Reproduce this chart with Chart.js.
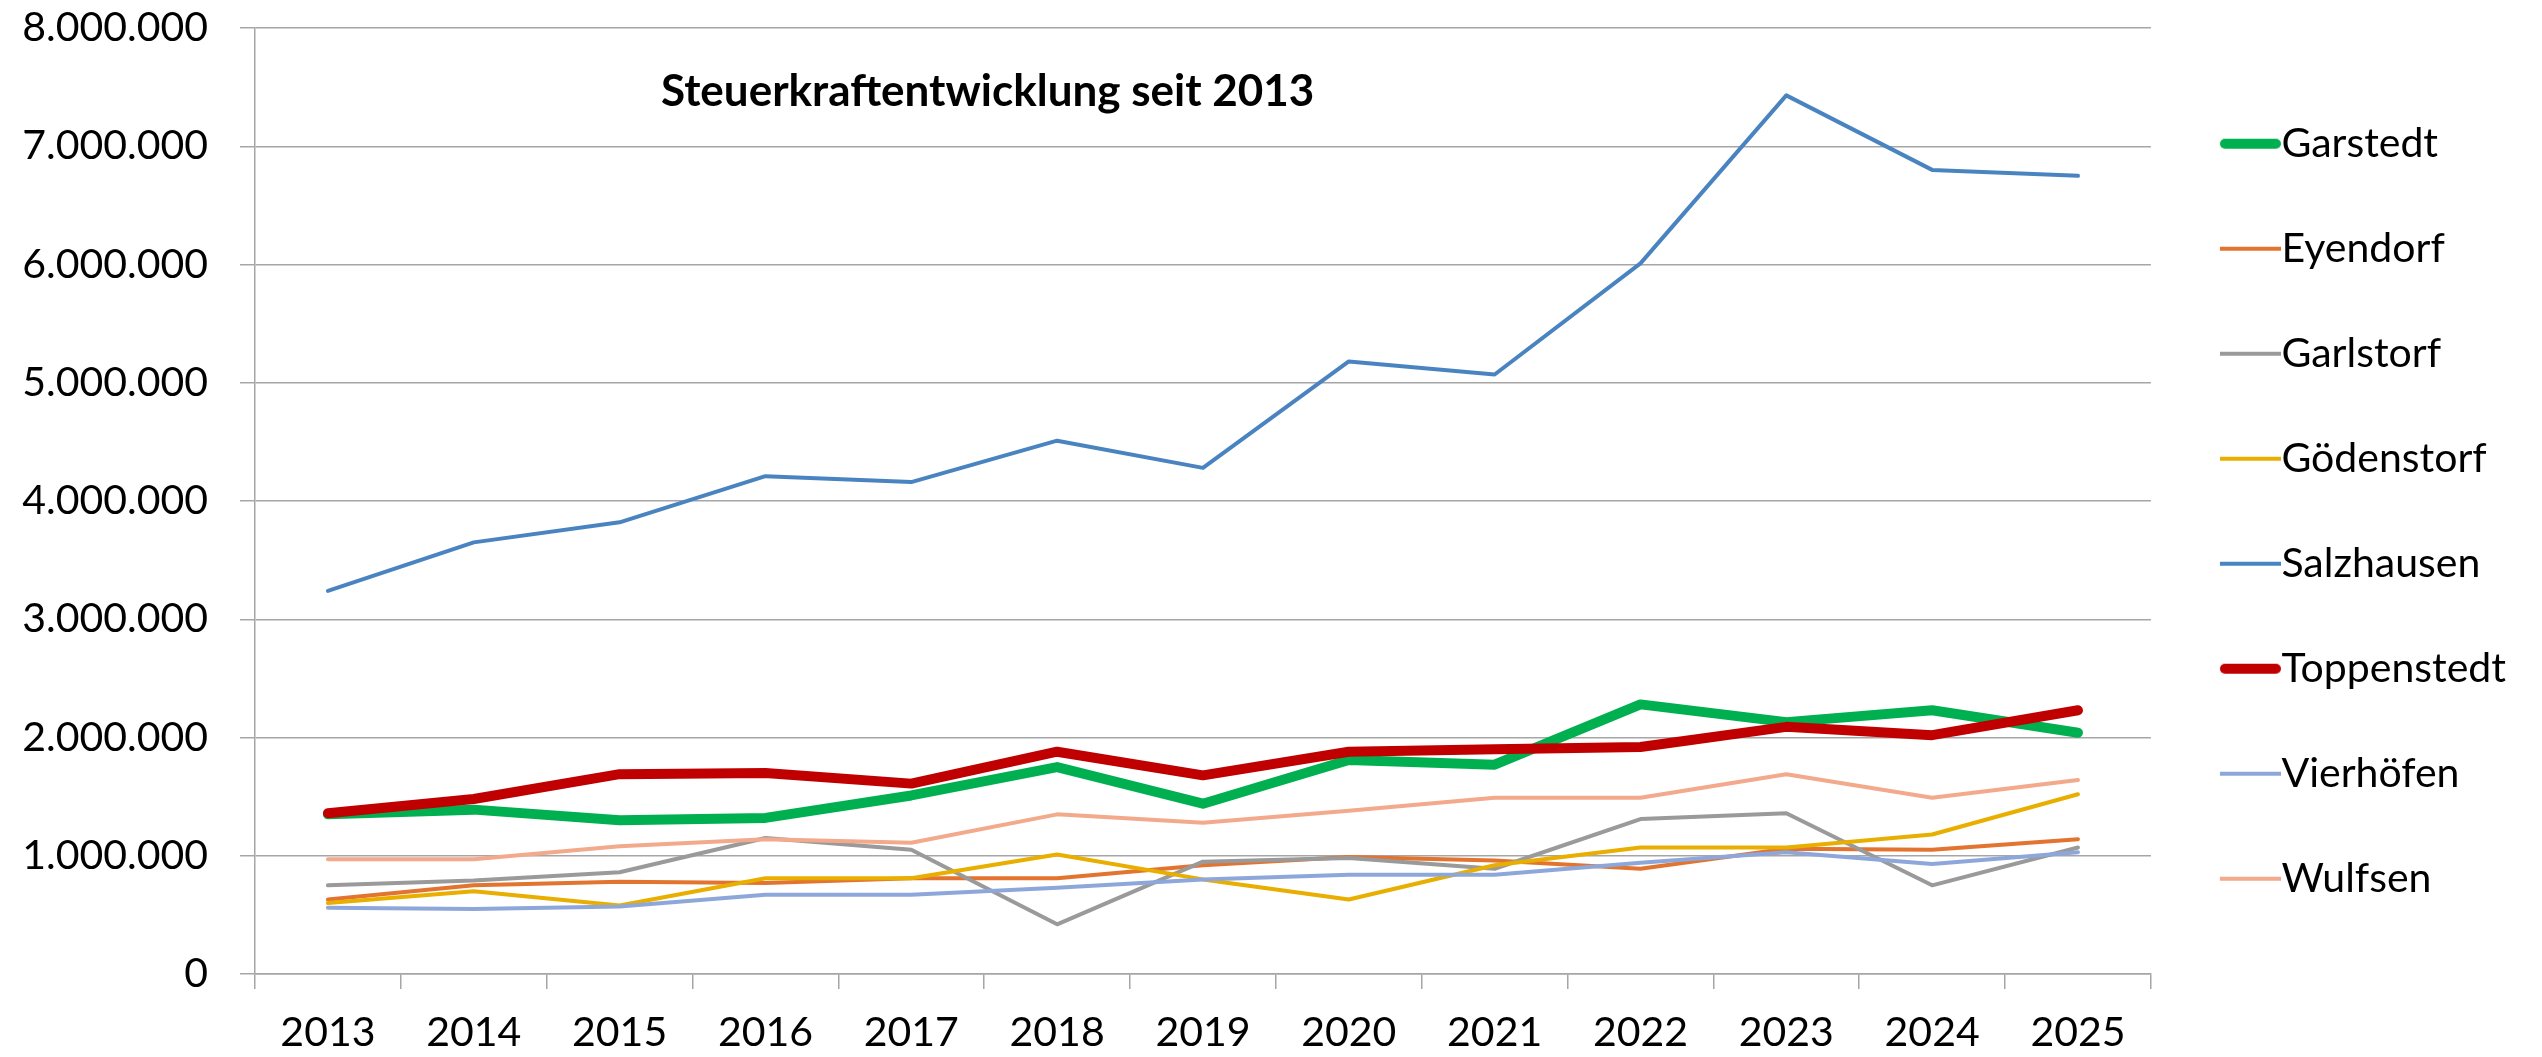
<!DOCTYPE html>
<html>
<head>
<meta charset="utf-8">
<script src="https://cdn.jsdelivr.net/npm/chart.js@4.4.1/dist/chart.umd.min.js"></script>
<style>
  html, body { margin: 0; padding: 0; background: #ffffff; }
  #wrap { position: relative; width: 2542px; height: 1057px; }
</style>
</head>
<body>
<div id="wrap"><canvas id="c" width="2542" height="1057"></canvas></div>
<script>
const chartTitle = 'Steuerkraftentwicklung seit 2013';
const years = ['2013','2014','2015','2016','2017','2018','2019','2020','2021','2022','2023','2024','2025'];
const yTicks = [0, 1000000, 2000000, 3000000, 4000000, 5000000, 6000000, 7000000, 8000000];

const garstedt    = [1350000, 1390000, 1300000, 1320000, 1510000, 1750000, 1440000, 1810000, 1770000, 2280000, 2130000, 2230000, 2040000];
const eyendorf    = [ 630000,  750000,  780000,  770000,  810000,  810000,  920000,  990000,  960000,  890000, 1060000, 1050000, 1140000];
const garlstorf   = [ 750000,  790000,  860000, 1150000, 1050000,  420000,  950000,  980000,  890000, 1310000, 1360000,  750000, 1070000];
const goedenstorf = [ 600000,  700000,  580000,  810000,  810000, 1010000,  800000,  630000,  920000, 1070000, 1070000, 1180000, 1520000];
const salzhausen  = [3240000, 3650000, 3820000, 4210000, 4160000, 4510000, 4280000, 5180000, 5070000, 6010000, 7430000, 6800000, 6750000];
const toppenstedt = [1360000, 1480000, 1690000, 1700000, 1610000, 1880000, 1680000, 1880000, 1900000, 1920000, 2090000, 2020000, 2230000];
const vierhoefen  = [ 560000,  550000,  570000,  670000,  670000,  730000,  800000,  840000,  840000,  940000, 1030000,  930000, 1030000];
const wulfsen     = [ 970000,  970000, 1080000, 1140000, 1110000, 1350000, 1280000, 1380000, 1490000, 1490000, 1690000, 1490000, 1640000];

const seriesNames = ['Garstedt','Eyendorf','Garlstorf','Gödenstorf','Salzhausen','Toppenstedt','Vierhöfen','Wulfsen'];
const seriesData  = [garstedt, eyendorf, garlstorf, goedenstorf, salzhausen, toppenstedt, vierhoefen, wulfsen];
const seriesColors = ['#00B050','#E2742F','#9A9A9A','#E8AE00','#4A84C0','#C00000','#8EA7DA','#F3A98B'];
const seriesWidths = [10, 4, 4, 4, 4, 10, 4, 4];

const FONT = 'Lato';

// legend swatch: a short line drawn into a small canvas (left part transparent)
const SWATCH_BOX = 46;   // legend box width used by Chart.js
const SWATCH_LINE = 61;  // visible line length
const SWATCH_END = 66;   // line end, measured from the legend item start
function makeSwatch(color, width) {
  const w = Math.round(2 * (SWATCH_END - SWATCH_BOX / 2));
  const h = 16;
  const cv = document.createElement('canvas');
  cv.width = w; cv.height = h;
  const c = cv.getContext('2d');
  c.strokeStyle = color;
  c.lineWidth = width;
  c.lineCap = width > 6 ? 'round' : 'butt';
  const cap = width > 6 ? width / 2 : 0;
  c.beginPath();
  c.moveTo(w - SWATCH_LINE + cap, h / 2);
  c.lineTo(w - cap, h / 2);
  c.stroke();
  return cv;
}

const datasets = seriesNames.map((name, i) => ({
  label: name,
  data: seriesData[i],
  borderColor: seriesColors[i],
  backgroundColor: seriesColors[i],
  borderWidth: seriesWidths[i],
  borderCapStyle: 'round',
  borderJoinStyle: 'round',
  pointRadius: 0,
  pointHoverRadius: 0,
  pointStyle: makeSwatch(seriesColors[i], seriesWidths[i]),
  tension: 0,
  fill: false,
  order: seriesNames.length - i
}));

function fmt(v) {
  return String(Math.round(v)).replace(/\B(?=(\d{3})+(?!\d))/g, '.');
}

const titlePlugin = {
  id: 'innerTitle',
  afterDraw(chart) {
    const ctx = chart.ctx;
    const a = chart.chartArea;
    ctx.save();
    ctx.font = 'bold 44px ' + FONT;
    ctx.fillStyle = '#000000';
    ctx.textAlign = 'left';
    ctx.textBaseline = 'middle';
    ctx.fillText(chartTitle, a.left + 406, a.top + 64);
    ctx.restore();
  }
};

new Chart(document.getElementById('c'), {
  type: 'line',
  data: { labels: years, datasets: datasets },
  plugins: [titlePlugin],
  options: {
    responsive: false,
    animation: false,
    devicePixelRatio: 1,
    layout: { padding: { top: 0, left: 0, right: 26, bottom: 0 } },
    plugins: {
      tooltip: { enabled: false },
      title: { display: false },
      legend: {
        display: true,
        position: 'right',
        align: 'start',
        maxWidth: 392,
        title: { display: true, text: '', font: { size: 1 }, padding: { top: 58, bottom: 0 } },
        labels: {
          usePointStyle: true,
          pointStyleWidth: SWATCH_BOX,
          boxHeight: 41,
          padding: 64,
          color: '#000000',
          font: { family: FONT, size: 41 },
          sort: (a, b) => a.datasetIndex - b.datasetIndex
        }
      }
    },
    scales: {
      x: {
        type: 'category',
        offset: true,
        afterFit(scale) { scale.height = 83; },
        grid: {
          display: true,
          offset: true,
          drawOnChartArea: false,
          drawTicks: true,
          tickLength: 15,
          color: '#A6A6A6',
          lineWidth: 1.5
        },
        border: { display: true, color: '#A6A6A6', width: 1.5 },
        ticks: {
          color: '#000000',
          font: { family: FONT, size: 41 },
          padding: 19,
          maxRotation: 0,
          autoSkip: false
        }
      },
      y: {
        min: 0,
        max: 8000000,
        afterFit(scale) { scale.width = 255; scale.paddingTop = 28; scale.paddingBottom = 0; },
        afterBuildTicks(scale) { scale.ticks = yTicks.map(v => ({ value: v })); },
        grid: {
          display: true,
          drawTicks: true,
          tickLength: 15,
          color: '#A6A6A6',
          lineWidth: 1.5
        },
        border: { display: true, color: '#A6A6A6', width: 1.5 },
        ticks: {
          color: '#000000',
          font: { family: FONT, size: 41 },
          padding: 32,
          callback: (v) => fmt(v)
        }
      }
    }
  }
});
</script>
</body>
</html>
